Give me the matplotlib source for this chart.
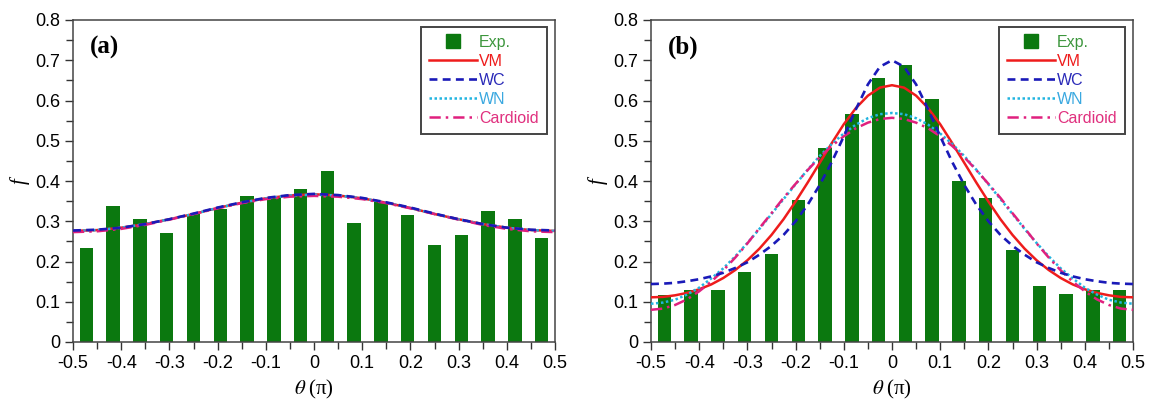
import matplotlib
matplotlib.use('Agg')
import matplotlib.pyplot as plt
from matplotlib.lines import Line2D
from matplotlib.ticker import MultipleLocator
import numpy as np

plt.rcParams['font.family'] = ['Liberation Sans', 'DejaVu Sans']
plt.rcParams['mathtext.fontset'] = 'stix'

# bin centres of the histograms (18 bins over -0.5..0.5)
bins = [-0.472, -0.417, -0.361, -0.306, -0.250, -0.194, -0.139, -0.083, -0.028,
        0.028, 0.083, 0.139, 0.194, 0.250, 0.306, 0.361, 0.417, 0.472]

# panel (a) measured frequencies
exp_a = [0.234, 0.338, 0.305, 0.270, 0.318, 0.330, 0.363, 0.361, 0.379,
         0.426, 0.296, 0.349, 0.316, 0.241, 0.265, 0.325, 0.305, 0.258]
# panel (b) measured frequencies
exp_b = [0.116, 0.130, 0.129, 0.173, 0.219, 0.353, 0.483, 0.566, 0.656,
         0.687, 0.604, 0.400, 0.357, 0.228, 0.138, 0.119, 0.128, 0.129]

# fitted curves, panel (a), read every 0.05
theta_a = [-0.5, -0.45, -0.4, -0.35, -0.3, -0.25, -0.2, -0.15, -0.1, -0.05, 0.0,
           0.05, 0.1, 0.15, 0.2, 0.25, 0.3, 0.35, 0.4, 0.45, 0.5]
vm_a = [0.276, 0.278, 0.284, 0.293, 0.305, 0.318, 0.333, 0.346, 0.357, 0.364, 0.367,
        0.364, 0.357, 0.346, 0.333, 0.318, 0.305, 0.293, 0.284, 0.278, 0.276]
wc_a = [0.277, 0.279, 0.284, 0.293, 0.305, 0.319, 0.334, 0.347, 0.358, 0.365, 0.368,
        0.365, 0.358, 0.347, 0.334, 0.319, 0.305, 0.293, 0.284, 0.279, 0.277]
wn_a = [0.276, 0.278, 0.284, 0.293, 0.305, 0.318, 0.333, 0.346, 0.357, 0.364, 0.366,
        0.364, 0.357, 0.346, 0.333, 0.318, 0.305, 0.293, 0.284, 0.278, 0.276]
card_a = [0.273, 0.275, 0.281, 0.291, 0.304, 0.318, 0.332, 0.345, 0.355, 0.361, 0.363,
          0.361, 0.355, 0.345, 0.332, 0.318, 0.304, 0.291, 0.281, 0.275, 0.273]

# fitted curves, panel (b), read every 0.025
theta_b = [-0.5, -0.475, -0.45, -0.425, -0.4, -0.375, -0.35, -0.325, -0.3, -0.275,
           -0.25, -0.225, -0.2, -0.175, -0.15, -0.125, -0.1, -0.075, -0.05, -0.025,
           0.0, 0.025, 0.05, 0.075, 0.1, 0.125, 0.15, 0.175, 0.2, 0.225,
           0.25, 0.275, 0.3, 0.325, 0.35, 0.375, 0.4, 0.425, 0.45, 0.475, 0.5]
vm_b = [0.111, 0.112, 0.116, 0.122, 0.131, 0.143, 0.159, 0.179, 0.203, 0.232,
        0.266, 0.305, 0.349, 0.396, 0.445, 0.494, 0.541, 0.581, 0.612, 0.632,
        0.638, 0.632, 0.612, 0.581, 0.541, 0.494, 0.445, 0.396, 0.349, 0.305,
        0.266, 0.232, 0.203, 0.179, 0.159, 0.143, 0.131, 0.122, 0.116, 0.112, 0.111]
wc_b = [0.144, 0.145, 0.147, 0.151, 0.156, 0.163, 0.172, 0.184, 0.198, 0.217,
        0.239, 0.266, 0.300, 0.341, 0.390, 0.447, 0.511, 0.578, 0.640, 0.684,
        0.700, 0.684, 0.640, 0.578, 0.511, 0.447, 0.390, 0.341, 0.300, 0.266,
        0.239, 0.217, 0.198, 0.184, 0.172, 0.163, 0.156, 0.151, 0.147, 0.145, 0.144]
wn_b = [0.095, 0.098, 0.105, 0.118, 0.135, 0.158, 0.183, 0.213, 0.246, 0.281,
        0.318, 0.355, 0.392, 0.428, 0.462, 0.492, 0.518, 0.540, 0.556, 0.566,
        0.569, 0.566, 0.556, 0.540, 0.518, 0.492, 0.462, 0.428, 0.392, 0.355,
        0.318, 0.281, 0.246, 0.213, 0.183, 0.158, 0.135, 0.118, 0.105, 0.098, 0.095]
card_b = [0.080, 0.083, 0.092, 0.106, 0.126, 0.150, 0.178, 0.210, 0.245, 0.283,
          0.320, 0.358, 0.393, 0.427, 0.459, 0.487, 0.511, 0.531, 0.545, 0.554,
          0.557, 0.554, 0.545, 0.531, 0.511, 0.487, 0.459, 0.427, 0.393, 0.358,
          0.320, 0.283, 0.245, 0.210, 0.178, 0.150, 0.126, 0.106, 0.092, 0.083, 0.080]

labels = ['Exp.', 'VM', 'WC', 'WN', 'Cardioid']
green = '#0b780f'
c_vm, c_wc, c_wn, c_card = '#ee1c1c', '#1a1ab8', '#22b4e0', '#e0207e'
text_cols = ['#3c963c', '#ee1c1c', '#2a2ab8', '#3aa8e0', '#e0307e']
ls_wc = (0, (3, 2))
ls_wn = (0, (1, 1))
ls_card = (0, (4.5, 2, 1, 2))

fig = plt.figure(figsize=(11.5, 4.04), dpi=100)
ax_a = fig.add_axes([73 / 1150, 62 / 404, 482 / 1150, 322 / 404])
ax_b = fig.add_axes([651 / 1150, 62 / 404, 482 / 1150, 322 / 404])

panels = [(ax_a, exp_a, theta_a, vm_a, wc_a, wn_a, card_a, '(a)'),
          (ax_b, exp_b, theta_b, vm_b, wc_b, wn_b, card_b, '(b)')]

for ax, ex, th, vm, wc, wn, cd, tag in panels:
    ax.bar(bins, ex, width=0.029, color=green, zorder=1)
    ax.plot(th, vm, color=c_vm, lw=1.8, zorder=3)
    ax.plot(th, wc, color=c_wc, lw=1.9, ls=ls_wc, zorder=4)
    ax.plot(th, wn, color=c_wn, lw=1.8, ls=ls_wn, zorder=3)
    ax.plot(th, cd, color=c_card, lw=1.8, ls=ls_card, zorder=3)

    ax.set_xlim(-0.5, 0.5)
    ax.set_ylim(0, 0.8)
    ax.xaxis.set_minor_locator(MultipleLocator(0.05))
    ax.yaxis.set_minor_locator(MultipleLocator(0.05))
    ax.tick_params(which='both', direction='out', top=False, right=False,
                   labelsize=13, color='#333333', width=1, pad=3)
    ax.tick_params(which='major', length=6)
    ax.tick_params(which='minor', length=5)
    ax.set_xticks(np.round(np.arange(-0.5, 0.51, 0.1), 1))
    ax.set_xticklabels(['-0.5', '-0.4', '-0.3', '-0.2', '-0.1', '0',
                        '0.1', '0.2', '0.3', '0.4', '0.5'])
    ax.set_yticks(np.round(np.arange(0, 0.81, 0.1), 1))
    ax.set_yticklabels(['0', '0.1', '0.2', '0.3', '0.4', '0.5', '0.6', '0.7', '0.8'])
    for s in ax.spines.values():
        s.set_color('#444444')
        s.set_linewidth(1.1)

    ax.set_xlabel(r'$\theta\;$(π)', fontsize=15, family='Liberation Serif', labelpad=5)
    ax.set_ylabel('f', fontsize=15, family='Liberation Serif', style='italic', labelpad=4)
    ax.text(0.035, 0.915, tag, transform=ax.transAxes, fontsize=18,
            family='Liberation Serif', weight='bold', va='center', ha='left')

    handles = [Line2D([], [], ls='none', marker='s', ms=10, color=green),
               Line2D([], [], color=c_vm, lw=1.8),
               Line2D([], [], color=c_wc, lw=1.9, ls=ls_wc),
               Line2D([], [], color=c_wn, lw=1.8, ls=ls_wn),
               Line2D([], [], color=c_card, lw=1.8, ls=ls_card)]
    leg = ax.legend(handles, labels, loc='upper right', bbox_to_anchor=(0.983, 0.978),
                    borderaxespad=0, fontsize=11.5, handlelength=3.0, handletextpad=0.15,
                    labelspacing=0.25, borderpad=0.5, fancybox=False, framealpha=1,
                    edgecolor='#444444')
    leg.get_frame().set_linewidth(1.4)
    for t, c in zip(leg.get_texts(), text_cols):
        t.set_color(c)

fig.savefig('out.png', dpi=100)
